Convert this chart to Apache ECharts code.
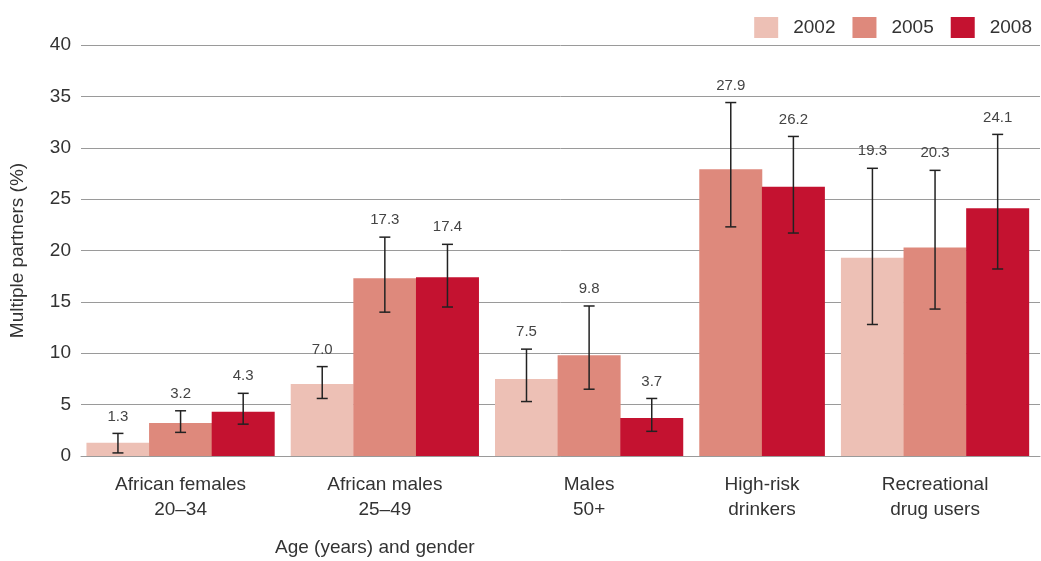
<!DOCTYPE html>
<html>
<head>
<meta charset="utf-8">
<script src="https://cdn.jsdelivr.net/npm/echarts@6/dist/echarts.min.js"></script>
<style>
html, body { margin: 0; padding: 0; background: #fff; }
#chart { width: 1041px; height: 561px; }
</style>
</head>
<body>
<div id="chart"></div>
<script>
const categories = ['African females\n20–34', 'African males\n25–49', 'Males\n50+', 'High-risk\ndrinkers', 'Recreational\ndrug users'];
const years = ['2002', '2005', '2008'];
const v2002 = [1.3, 7.0, 7.5, null, 19.3];
const v2005 = [3.2, 17.3, 9.8, 27.9, 20.3];
const v2008 = [4.3, 17.4, 3.7, 26.2, 24.1];
const lo2002 = [0.3, 5.6, 5.3, null, 12.8];
const hi2002 = [2.2, 8.7, 10.4, null, 28.0];
const lo2005 = [2.3, 14.0, 6.5, 22.3, 14.3];
const hi2005 = [4.4, 21.3, 14.6, 34.4, 27.8];
const lo2008 = [3.1, 14.5, 2.4, 21.7, 18.2];
const hi2008 = [6.1, 20.6, 5.6, 31.1, 31.3];
const yTicks = { min: 0, max: 40, interval: 5 };

const values = [v2002, v2005, v2008];
const lows = [lo2002, lo2005, lo2008];
const highs = [hi2002, hi2005, hi2008];
const colors = ['#EDC0B5', '#DE897C', '#C41230'];
const font = '"Liberation Sans", Arial, sans-serif';

// groups only hold the bars that exist, so a missing year closes up
const groupGap = 0.262;
let slotX = [[], [], []];
let groupCenters = [];
let cursor = 0;
categories.forEach(function (c, i) {
    let start = cursor;
    years.forEach(function (y, s) {
        if (values[s][i] == null) return;
        slotX[s][i] = cursor + 0.5;
        cursor += 1;
    });
    groupCenters.push((start + cursor) / 2);
    cursor += groupGap;
});
const xMax = cursor - groupGap;

let barSeries = years.map(function (y, s) {
    let data = [];
    values[s].forEach(function (v, i) {
        if (v != null) data.push([slotX[s][i], v]);
    });
    return {
        name: y,
        type: 'bar',
        barWidth: 63,
        barGap: '-100%',
        itemStyle: { color: colors[s] },
        data: data,
        z: 2
    };
});

let errData = [];
years.forEach(function (y, s) {
    values[s].forEach(function (v, i) {
        if (v != null) errData.push([slotX[s][i], lows[s][i], highs[s][i], v]);
    });
});

const renderError = function (params, api) {
    let x = api.value(0);
    let top = api.coord([x, api.value(2)]);
    let bottom = api.coord([x, api.value(1)]);
    let half = 5.5;
    let style = { stroke: '#222', lineWidth: 1.5 };
    return {
        type: 'group',
        children: [
            { type: 'line', shape: { x1: top[0], y1: top[1], x2: bottom[0], y2: bottom[1] }, style: style },
            { type: 'line', shape: { x1: top[0] - half, y1: top[1], x2: top[0] + half, y2: top[1] }, style: style },
            { type: 'line', shape: { x1: bottom[0] - half, y1: bottom[1], x2: bottom[0] + half, y2: bottom[1] }, style: style },
            {
                type: 'text',
                x: top[0],
                y: top[1] - 17,
                style: {
                    text: api.value(3).toFixed(1),
                    fill: '#444',
                    font: '15px ' + font,
                    align: 'center',
                    verticalAlign: 'middle'
                }
            }
        ]
    };
};

let chart = echarts.init(document.getElementById('chart'));
chart.setOption({
    animation: false,
    textStyle: { fontFamily: font },
    grid: { left: 81, right: 1, top: 45, bottom: 105, containLabel: false },
    legend: {
        data: years,
        right: 4,
        top: 12,
        itemWidth: 24,
        itemHeight: 21,
        itemGap: 17,
        icon: 'rect',
        textStyle: { fontSize: 19, color: '#333', padding: [0, 0, 0, 10] }
    },
    xAxis: {
        type: 'value',
        min: -0.09,
        max: xMax + 0.176,
        splitLine: { show: false },
        axisTick: { show: false },
        axisLine: { show: true, lineStyle: { color: '#9a9a9a', width: 1 } },
        axisLabel: {
            customValues: groupCenters,
            margin: 16,
            fontSize: 19,
            lineHeight: 25,
            color: '#333',
            formatter: function (val) {
                for (let i = 0; i < groupCenters.length; i++) {
                    if (Math.abs(groupCenters[i] - val) < 1e-6) return categories[i];
                }
                return '';
            }
        }
    },
    yAxis: {
        type: 'value',
        min: yTicks.min,
        max: yTicks.max,
        interval: yTicks.interval,
        name: 'Multiple partners (%)',
        nameLocation: 'middle',
        nameGap: 54,
        nameTextStyle: { fontSize: 19, color: '#333' },
        axisLine: { show: false },
        axisTick: { show: false },
        axisLabel: { fontSize: 19, color: '#333', margin: 10 },
        splitLine: { lineStyle: { color: '#9a9a9a', width: 1 } }
    },
    graphic: [{
        type: 'text',
        left: 275,
        top: 538,
        style: { text: 'Age (years) and gender', font: '19px ' + font, fill: '#333' }
    }],
    series: barSeries.concat([{
        type: 'custom',
        renderItem: renderError,
        encode: { x: 0, y: [1, 2] },
        data: errData,
        z: 5
    }])
});
</script>
</body>
</html>
